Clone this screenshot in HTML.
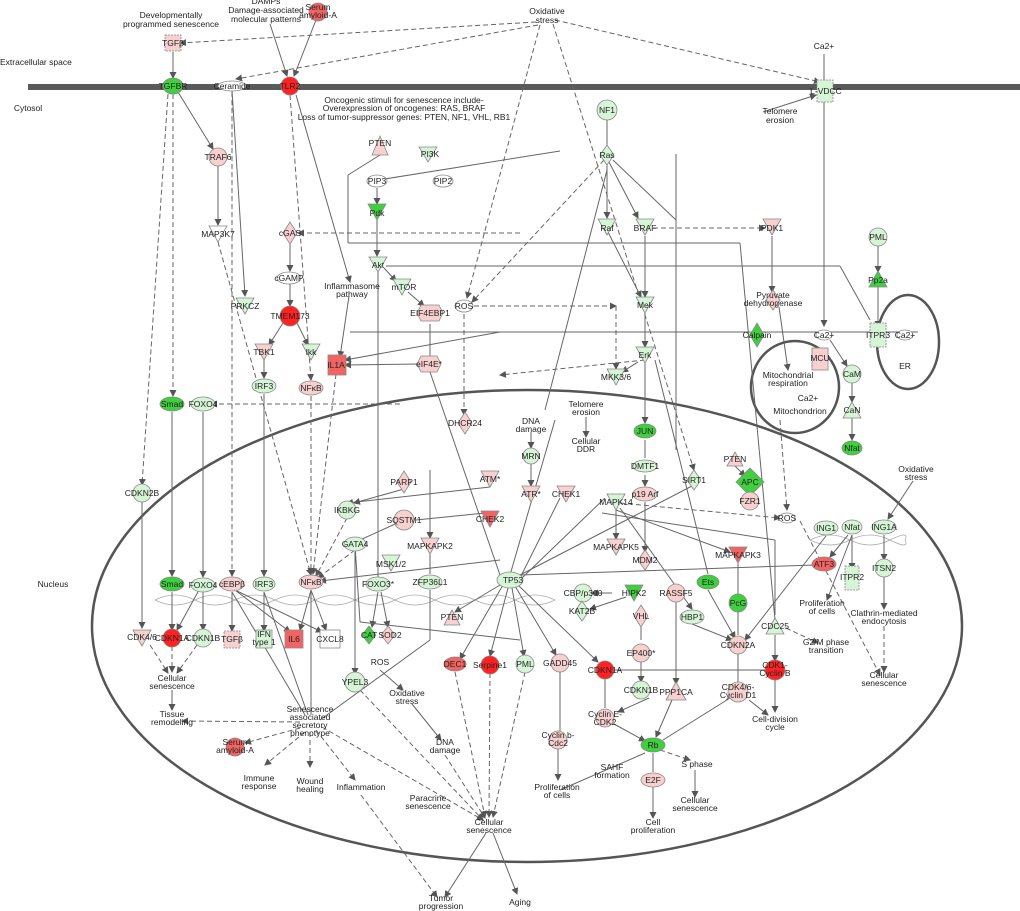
<!DOCTYPE html>
<html><head><meta charset="utf-8"><style>
html,body{margin:0;padding:0;background:#fff;}
svg{display:block;font-family:"Liberation Sans",sans-serif;}
text{font-size:8.5px;fill:#222;text-anchor:middle;}
.l{fill:none;stroke:#666;stroke-width:1;}
.d{fill:none;stroke:#666;stroke-width:1;stroke-dasharray:5,3;}
.n{stroke:#888;stroke-width:0.8;}
.g{fill:#d6f5d6}.G{fill:#3fcf3f}.r{fill:#f8d0d0}.R{fill:#f22}.m{fill:#f26464}.w{fill:#fff}
</style></head><body>
<svg width="1020" height="911" viewBox="0 0 1020 911" xmlns="http://www.w3.org/2000/svg">
<defs><marker id="a" markerWidth="7" markerHeight="7" refX="6" refY="3.5" orient="auto"><path d="M0,0L7,3.5L0,7z" fill="#555"/></marker></defs>
<rect x="28" y="84" width="992" height="6" fill="#5a5a5a"/>
<ellipse cx="527" cy="626" rx="435" ry="236" fill="none" stroke="#555" stroke-width="2.5"/>
<ellipse cx="795" cy="387" rx="44" ry="46" fill="none" stroke="#555" stroke-width="2.5"/>
<ellipse cx="908" cy="342" rx="31" ry="47" fill="none" stroke="#555" stroke-width="2.5"/>
<text x="0" y="65" style="text-anchor:start">Extracellular space</text>
<text x="28" y="111">Cytosol</text>
<text x="53" y="587">Nucleus</text>
<g stroke="#aaa" fill="none" stroke-width="0.8">
<path d="M155,600 Q175,590 195,600 T235,600 T275,600 T315,600 T355,600 T395,600 T435,600 T475,600 T515,600 T555,600"/>
<path d="M155,600 Q175,610 195,600 T235,600 T275,600 T315,600 T355,600 T395,600 T435,600 T475,600 T515,600 T555,600"/>
<path d="M810,540 Q830,530 850,540 T890,540 T905,540"/>
<path d="M810,540 Q830,550 850,540 T890,540 T905,540"/>
</g>
<g class="l" marker-end="url(#a)">
<line x1="173" y1="52" x2="173" y2="78"/>
<line x1="270" y1="24" x2="287" y2="76"/>
<line x1="316" y1="20" x2="294" y2="76"/>
<line x1="178" y1="92" x2="213" y2="149"/>
<line x1="218" y1="165" x2="218" y2="225"/>
<line x1="232" y1="90" x2="245" y2="296"/>
<line x1="290" y1="241" x2="290" y2="271"/>
<line x1="290" y1="284" x2="290" y2="306"/>
<line x1="283" y1="323" x2="269" y2="345"/>
<line x1="297" y1="323" x2="308" y2="345"/>
<line x1="264" y1="360" x2="264" y2="378"/>
<line x1="296" y1="95" x2="350" y2="282"/>
<line x1="349" y1="296" x2="340" y2="357"/>
<line x1="377" y1="188" x2="377" y2="204"/>
<line x1="377" y1="220" x2="377" y2="256"/>
<line x1="384" y1="268" x2="396" y2="281"/>
<line x1="408" y1="292" x2="424" y2="306"/>
<line x1="419" y1="364" x2="345" y2="365"/>
<line x1="500" y1="332" x2="345" y2="360"/>
<line x1="607" y1="165" x2="607" y2="218"/>
<line x1="609" y1="162" x2="638" y2="218"/>
<line x1="608" y1="232" x2="641" y2="297"/>
<line x1="645" y1="236" x2="645" y2="297"/>
<line x1="645" y1="313" x2="645" y2="347"/>
<line x1="645" y1="362" x2="645" y2="423"/>
<line x1="638" y1="362" x2="622" y2="372"/>
<line x1="772" y1="236" x2="772" y2="292"/>
<line x1="779" y1="307" x2="788" y2="370"/>
<line x1="824" y1="54" x2="824" y2="326"/>
<line x1="878" y1="245" x2="878" y2="272"/>
<line x1="878" y1="287" x2="878" y2="327"/>
<line x1="830" y1="340" x2="847" y2="366"/>
<line x1="852" y1="382" x2="852" y2="402"/>
<line x1="852" y1="418" x2="852" y2="440"/>
<line x1="763" y1="112" x2="816" y2="95"/>
<line x1="645" y1="475" x2="645" y2="486"/>
<line x1="586" y1="417" x2="586" y2="437"/>
<line x1="531" y1="432" x2="531" y2="448"/>
<line x1="531" y1="463" x2="531" y2="486"/>
<line x1="172" y1="412" x2="172" y2="576"/>
<line x1="203" y1="412" x2="203" y2="577"/>
<line x1="264" y1="394" x2="264" y2="576"/>
<line x1="142" y1="501" x2="142" y2="628"/>
<line x1="311" y1="590" x2="300" y2="630"/>
<line x1="311" y1="590" x2="326" y2="630"/>
<line x1="235" y1="590" x2="290" y2="632"/>
<line x1="235" y1="590" x2="322" y2="632"/>
<line x1="232" y1="592" x2="232" y2="631"/>
<line x1="264" y1="592" x2="264" y2="631"/>
<line x1="172" y1="592" x2="172" y2="630"/>
<line x1="203" y1="592" x2="203" y2="630"/>
<line x1="199" y1="590" x2="177" y2="630"/>
<line x1="172" y1="690" x2="172" y2="710"/>
<line x1="355" y1="552" x2="355" y2="674"/>
<line x1="378" y1="592" x2="372" y2="627"/>
<line x1="381" y1="592" x2="388" y2="627"/>
<line x1="380" y1="670" x2="403" y2="690"/>
<line x1="412" y1="704" x2="441" y2="740"/>
<line x1="490" y1="487" x2="347" y2="503"/>
<line x1="404" y1="489" x2="354" y2="503"/>
<line x1="430" y1="470" x2="430" y2="538"/>
<line x1="500" y1="560" x2="320" y2="581"/>
<line x1="616" y1="510" x2="616" y2="539"/>
<line x1="645" y1="502" x2="645" y2="552"/>
<line x1="616" y1="510" x2="730" y2="552"/>
<line x1="620" y1="508" x2="692" y2="609"/>
<line x1="503" y1="585" x2="460" y2="659"/>
<line x1="508" y1="588" x2="490" y2="656"/>
<line x1="512" y1="588" x2="524" y2="656"/>
<line x1="515" y1="586" x2="556" y2="655"/>
<line x1="518" y1="585" x2="598" y2="662"/>
<line x1="500" y1="585" x2="455" y2="612"/>
<line x1="612" y1="593" x2="592" y2="593"/>
<line x1="626" y1="597" x2="590" y2="609"/>
<line x1="641" y1="661" x2="641" y2="682"/>
<line x1="649" y1="698" x2="618" y2="712"/>
<line x1="614" y1="724" x2="645" y2="741"/>
<line x1="672" y1="700" x2="656" y2="737"/>
<line x1="676" y1="601" x2="676" y2="684"/>
<line x1="692" y1="624" x2="732" y2="640"/>
<line x1="708" y1="590" x2="735" y2="638"/>
<line x1="653" y1="787" x2="653" y2="818"/>
<line x1="695" y1="770" x2="695" y2="797"/>
<line x1="558" y1="748" x2="558" y2="780"/>
<line x1="775" y1="678" x2="775" y2="712"/>
<line x1="749" y1="700" x2="768" y2="715"/>
<line x1="775" y1="635" x2="775" y2="661"/>
<line x1="884" y1="535" x2="884" y2="560"/>
<line x1="884" y1="576" x2="884" y2="609"/>
<line x1="852" y1="535" x2="852" y2="569"/>
<line x1="848" y1="535" x2="830" y2="557"/>
<line x1="852" y1="535" x2="827" y2="600"/>
<line x1="826" y1="536" x2="745" y2="640"/>
<line x1="913" y1="481" x2="888" y2="519"/>
<line x1="486" y1="833" x2="445" y2="897"/>
<line x1="493" y1="833" x2="517" y2="894"/>
<line x1="735" y1="466" x2="745" y2="476"/>
</g>
<g class="d" marker-end="url(#a)">
<line x1="536" y1="22" x2="180" y2="43"/>
<line x1="538" y1="25" x2="236" y2="79"/>
<line x1="555" y1="20" x2="820" y2="82"/>
<line x1="540" y1="25" x2="467" y2="298"/>
<line x1="553" y1="24" x2="694" y2="470"/>
<line x1="173" y1="94" x2="173" y2="396"/>
<line x1="168" y1="94" x2="142" y2="485"/>
<line x1="290" y1="95" x2="311" y2="380"/>
<line x1="218" y1="242" x2="311" y2="575"/>
<line x1="232" y1="92" x2="232" y2="576"/>
<line x1="311" y1="396" x2="311" y2="574"/>
<line x1="336" y1="374" x2="313" y2="574"/>
<line x1="604" y1="160" x2="472" y2="302"/>
<line x1="653" y1="228" x2="765" y2="228"/>
<line x1="520" y1="233" x2="298" y2="233"/>
<line x1="464" y1="314" x2="464" y2="415"/>
<line x1="474" y1="306" x2="616" y2="306"/>
<line x1="616" y1="306" x2="616" y2="369"/>
<line x1="645" y1="360" x2="500" y2="375"/>
<line x1="400" y1="404" x2="211" y2="404"/>
<line x1="620" y1="503" x2="780" y2="518"/>
<line x1="780" y1="420" x2="787" y2="510"/>
<line x1="347" y1="518" x2="316" y2="576"/>
<line x1="355" y1="550" x2="318" y2="578"/>
<line x1="150" y1="645" x2="168" y2="673"/>
<line x1="172" y1="646" x2="172" y2="672"/>
<line x1="197" y1="645" x2="177" y2="673"/>
<line x1="300" y1="722" x2="182" y2="721"/>
<line x1="300" y1="728" x2="245" y2="743"/>
<line x1="305" y1="732" x2="265" y2="765"/>
<line x1="310" y1="732" x2="310" y2="767"/>
<line x1="316" y1="730" x2="355" y2="780"/>
<line x1="322" y1="727" x2="483" y2="820"/>
<line x1="361" y1="795" x2="437" y2="897"/>
<line x1="455" y1="672" x2="485" y2="817"/>
<line x1="490" y1="673" x2="489" y2="817"/>
<line x1="525" y1="672" x2="493" y2="817"/>
<line x1="445" y1="755" x2="485" y2="818"/>
<line x1="360" y1="690" x2="483" y2="820"/>
<line x1="660" y1="750" x2="690" y2="760"/>
<line x1="786" y1="628" x2="818" y2="643"/>
<line x1="800" y1="521" x2="880" y2="675"/>
<line x1="884" y1="626" x2="884" y2="672"/>
</g>
<g class="l">
<line x1="607" y1="118" x2="607" y2="145"/>
<line x1="560" y1="151" x2="372" y2="181"/>
<line x1="380" y1="155" x2="348" y2="175"/>
<line x1="348" y1="175" x2="348" y2="243"/>
<line x1="348" y1="243" x2="740" y2="243"/>
<line x1="740" y1="243" x2="775" y2="620"/>
<line x1="386" y1="266" x2="840" y2="266"/>
<line x1="840" y1="266" x2="870" y2="320"/>
<line x1="430" y1="372" x2="430" y2="324"/>
<line x1="676" y1="154" x2="676" y2="450"/>
<line x1="613" y1="160" x2="676" y2="220"/>
<line x1="607" y1="170" x2="545" y2="410"/>
<line x1="350" y1="332" x2="918" y2="332"/>
<line x1="378" y1="272" x2="378" y2="578"/>
<line x1="430" y1="372" x2="500" y2="575"/>
<line x1="555" y1="420" x2="510" y2="575"/>
<line x1="645" y1="440" x2="645" y2="458"/>
<line x1="655" y1="360" x2="708" y2="574"/>
<line x1="520" y1="575" x2="694" y2="485"/>
<line x1="602" y1="513" x2="775" y2="540"/>
<line x1="775" y1="540" x2="775" y2="615"/>
<line x1="612" y1="670" x2="765" y2="670"/>
<line x1="605" y1="678" x2="605" y2="708"/>
<line x1="738" y1="653" x2="738" y2="684"/>
<line x1="738" y1="563" x2="738" y2="597"/>
<line x1="738" y1="612" x2="738" y2="635"/>
<line x1="560" y1="672" x2="560" y2="732"/>
<line x1="641" y1="624" x2="641" y2="640"/>
<line x1="645" y1="753" x2="560" y2="790"/>
<line x1="653" y1="753" x2="653" y2="772"/>
<line x1="730" y1="698" x2="663" y2="740"/>
<line x1="430" y1="554" x2="430" y2="574"/>
<line x1="430" y1="590" x2="430" y2="640"/>
<line x1="430" y1="640" x2="320" y2="720"/>
<line x1="355" y1="545" x2="360" y2="622"/>
<line x1="360" y1="622" x2="520" y2="640"/>
<line x1="520" y1="575" x2="815" y2="565"/>
<line x1="495" y1="512" x2="416" y2="520"/>
<line x1="404" y1="520" x2="360" y2="540"/>
<line x1="232" y1="592" x2="305" y2="715"/>
<line x1="264" y1="592" x2="308" y2="715"/>
<line x1="311" y1="592" x2="311" y2="715"/>
<line x1="605" y1="498" x2="522" y2="578"/>
<line x1="560" y1="498" x2="520" y2="578"/>
</g>
<g class="n">
<rect x="165" y="35" width="16" height="16" class="r" stroke-dasharray="2,1"/>
<ellipse cx="173" cy="86" rx="10" ry="8" class="G"/>
<ellipse cx="232" cy="86" rx="14" ry="5" class="w"/>
<ellipse cx="290" cy="86" rx="9" ry="9" class="R"/>
<circle cx="318" cy="12" r="9" class="m"/>
<rect x="817" y="80" width="16" height="22" class="g" stroke-dasharray="2,1"/>
<circle cx="218" cy="157" r="9" class="r"/>
<polygon points="372,155 380,136 388,155" class="r"/>
<polygon points="419,147 437,147 428,162" class="g"/>
<ellipse cx="377" cy="181" rx="10" ry="6" class="w"/>
<ellipse cx="443" cy="181" rx="10" ry="6" class="w"/>
<polygon points="368,204 386,204 377,220" class="G"/>
<circle cx="607" cy="110" r="10" class="g"/>
<polygon points="607,145 614,155 607,165 600,155" class="g"/>
<polygon points="209,226 227,226 218,242" class="w"/>
<polygon points="290,222 297,233 290,244 283,233" class="r"/>
<polygon points="369,257 387,257 378,272" class="g"/>
<polygon points="393,279 411,279 402,295" class="g"/>
<ellipse cx="289" cy="278" rx="12" ry="6" class="w"/>
<polygon points="236,298 254,298 245,314" class="g"/>
<circle cx="290" cy="316" r="10" class="R"/>
<polygon points="421,305 439,305 443,313 439,321 421,321 417,313" class="r"/>
<ellipse cx="464" cy="306" rx="9" ry="6" class="w"/>
<polygon points="598,219 616,219 607,235" class="g"/>
<polygon points="636,219 654,219 645,235" class="g"/>
<polygon points="763,219 781,219 772,235" class="r"/>
<circle cx="878" cy="237" r="9" class="g"/>
<polygon points="869,287 878,271 887,287" class="G"/>
<polygon points="636,297 654,297 645,313" class="g"/>
<polygon points="773,290 780,300 773,310 766,300" class="r"/>
<polygon points="757,323 764,335 757,347 750,335" class="G"/>
<ellipse cx="824" cy="335" rx="8" ry="5" class="w"/>
<rect x="870" y="323" width="16" height="24" class="g" stroke-dasharray="2,1"/>
<ellipse cx="905" cy="335" rx="8" ry="5" class="w"/>
<polygon points="255,344 273,344 264,360" class="r"/>
<polygon points="302,344 320,344 311,360" class="g"/>
<rect x="328" y="355" width="18" height="20" class="m"/>
<polygon points="421,356 437,356 441,364 437,372 421,372 417,364" class="r"/>
<polygon points="636,347 654,347 645,363" class="g"/>
<polygon points="607,369 625,369 616,385" class="g"/>
<rect x="812" y="348" width="16" height="22" class="r"/>
<circle cx="852" cy="374" r="9" class="g"/>
<polygon points="843,418 852,402 861,418" class="g"/>
<ellipse cx="852" cy="448" rx="10" ry="7" class="G"/>
<ellipse cx="264" cy="386" rx="12" ry="7" class="g"/>
<ellipse cx="311" cy="388" rx="12" ry="7" class="r"/>
<ellipse cx="172" cy="404" rx="12" ry="7" class="G"/>
<ellipse cx="203" cy="404" rx="12" ry="7" class="g"/>
<polygon points="465,412 472,423 465,434 458,423" class="r"/>
<circle cx="531" cy="456" r="8" class="g"/>
<ellipse cx="645" cy="431" rx="11" ry="7" class="G"/>
<circle cx="142" cy="493" r="9" class="g"/>
<polygon points="404,471 411,482 404,493 397,482" class="r"/>
<polygon points="481,471 499,471 490,487" class="r"/>
<polygon points="522,486 540,486 531,502" class="r"/>
<polygon points="557,486 575,486 566,502" class="r"/>
<polygon points="607,494 625,494 616,510" class="g"/>
<ellipse cx="645" cy="466" rx="12" ry="6" class="g"/>
<ellipse cx="645" cy="494" rx="12" ry="7" class="r"/>
<polygon points="694,470 701,480 694,490 687,480" class="g"/>
<polygon points="727,466 735,452 743,466" class="r"/>
<polygon points="750,468 764,482 750,496 736,482" class="G"/>
<circle cx="750" cy="501" r="9" class="r"/>
<ellipse cx="787" cy="518" rx="8" ry="5" class="w"/>
<circle cx="347" cy="510" r="9" class="g"/>
<circle cx="404" cy="520" r="10" class="r"/>
<polygon points="481,511 499,511 490,527" class="m"/>
<ellipse cx="355" cy="544" rx="11" ry="7" class="g"/>
<polygon points="421,538 439,538 430,554" class="r"/>
<polygon points="382,555 400,555 391,571" class="g"/>
<ellipse cx="430" cy="582" rx="12" ry="7" class="g"/>
<ellipse cx="378" cy="584" rx="12" ry="7" class="g"/>
<ellipse cx="826" cy="528" rx="12" ry="7" class="g"/>
<ellipse cx="852" cy="527" rx="10" ry="7" class="g"/>
<ellipse cx="884" cy="527" rx="12" ry="7" class="g"/>
<polygon points="607,539 625,539 616,555" class="r"/>
<polygon points="645,550 652,560 645,570 638,560" class="r"/>
<polygon points="729,547 747,547 738,563" class="m"/>
<ellipse cx="824" cy="564" rx="12" ry="7" class="m"/>
<rect x="845" y="566" width="14" height="24" class="g" stroke-dasharray="2,1"/>
<circle cx="884" cy="568" r="9" class="g"/>
<ellipse cx="172" cy="584" rx="12" ry="7" class="G"/>
<ellipse cx="203" cy="585" rx="12" ry="7" class="g"/>
<ellipse cx="232" cy="584" rx="12" ry="7" class="r"/>
<ellipse cx="264" cy="584" rx="11" ry="7" class="g"/>
<ellipse cx="311" cy="582" rx="12" ry="7" class="r"/>
<ellipse cx="510" cy="580" rx="13" ry="8" class="g"/>
<circle cx="583" cy="593" r="9" class="g"/>
<polygon points="625,585 643,585 634,601" class="G"/>
<circle cx="676" cy="593" r="9" class="r"/>
<ellipse cx="708" cy="582" rx="11" ry="7" class="G"/>
<polygon points="444,625 452,610 460,625" class="r"/>
<polygon points="582,601 589,611 582,621 575,611" class="g"/>
<polygon points="641,605 648,616 641,627 634,616" class="r"/>
<ellipse cx="692" cy="617" rx="12" ry="7" class="g"/>
<circle cx="738" cy="603" r="9" class="G"/>
<polygon points="766,634 775,618 784,634" class="g"/>
<polygon points="133,630 151,630 142,646" class="r"/>
<circle cx="172" cy="638" r="9" class="R"/>
<circle cx="203" cy="638" r="9" class="g"/>
<rect x="224" y="631" width="16" height="17" class="r" stroke-dasharray="2,1"/>
<rect x="256" y="630" width="16" height="18" class="g"/>
<rect x="285" y="630" width="18" height="18" class="m"/>
<rect x="320" y="630" width="20" height="18" class="w"/>
<polygon points="369,626 376,635 369,644 362,635" class="G"/>
<polygon points="388,626 395,635 388,644 381,635" class="r"/>
<circle cx="738" cy="645" r="9" class="r"/>
<circle cx="641" cy="653" r="9" class="r"/>
<ellipse cx="455" cy="664" rx="11" ry="7" class="m"/>
<circle cx="490" cy="665" r="9" class="R"/>
<circle cx="525" cy="664" r="9" class="g"/>
<circle cx="560" cy="663" r="9" class="r"/>
<circle cx="605" cy="670" r="9" class="R"/>
<circle cx="775" cy="670" r="10" class="R"/>
<circle cx="355" cy="682" r="10" class="g"/>
<circle cx="641" cy="690" r="9" class="g"/>
<polygon points="666,700 676,682 686,700" class="r"/>
<circle cx="738" cy="692" r="10" class="r"/>
<circle cx="605" cy="718" r="9" class="r"/>
<circle cx="558" cy="740" r="9" class="r"/>
<circle cx="235" cy="747" r="9" class="m"/>
<ellipse cx="653" cy="745" rx="12" ry="7" class="G"/>
<ellipse cx="653" cy="780" rx="12" ry="7" class="r"/>
</g>
<g>
<text x="171" y="18">Developmentally</text><text x="171" y="27">programmed senescence</text>
<text x="266" y="4">DAMPs</text><text x="266" y="13">Damage-associated</text><text x="266" y="22">molecular patterns</text>
<text x="318" y="10">Serum</text><text x="318" y="18">amyloid-A</text>
<text x="547" y="14">Oxidative</text><text x="547" y="23">stress</text>
<text x="173" y="46">TGFβ</text><text x="173" y="89">TGFBR</text><text x="232" y="89">Ceramide</text><text x="290" y="89">TLR2</text>
<text x="824" y="49">Ca2+</text><text x="826" y="94">L-VDCC</text><text x="780" y="114">Telomere</text><text x="780" y="123">erosion</text>
<text x="404" y="103">Oncogenic stimuli for senescence include-</text>
<text x="404" y="111">Overexpression of oncogenes: RAS, BRAF</text>
<text x="404" y="120">Loss of tumor-suppressor genes: PTEN, NF1, VHL, RB1</text>
<text x="607" y="113">NF1</text><text x="218" y="160">TRAF6</text><text x="380" y="146">PTEN</text><text x="430" y="157">PI3K</text>
<text x="377" y="184">PIP3</text><text x="443" y="184">PIP2</text><text x="377" y="216">Pdk</text><text x="607" y="158">Ras</text>
<text x="218" y="237">MAP3K7</text><text x="290" y="236">cGAS</text><text x="378" y="268">Akt</text><text x="404" y="290">mTOR</text>
<text x="289" y="281">cGAMP</text><text x="352" y="289">Inflammasome</text><text x="352" y="297">pathway</text>
<text x="245" y="309">PRKCZ</text><text x="290" y="319">TMEM173</text><text x="430" y="316">EIF4EBP1</text><text x="464" y="309">ROS</text>
<text x="607" y="231">Raf</text><text x="645" y="231">BRAF</text><text x="772" y="231">PDK1</text><text x="878" y="240">PML</text><text x="878" y="283">Pp2a</text>
<text x="645" y="308">Mek</text><text x="773" y="298">Pyruvate</text><text x="773" y="306">dehydrogenase</text>
<text x="757" y="338">Calpain</text><text x="824" y="338">Ca2+</text><text x="878" y="338">ITPR3</text><text x="905" y="338">Ca2+</text><text x="905" y="369">ER</text>
<text x="264" y="355">TBK1</text><text x="311" y="355">Ikk</text><text x="336" y="368">IL1A</text><text x="429" y="367">eIF4E*</text>
<text x="645" y="358">Erk</text><text x="616" y="380">MKK3/6</text><text x="820" y="361">MCU</text><text x="852" y="377">CaM</text>
<text x="788" y="378">Mitochondrial</text><text x="788" y="386">respiration</text><text x="808" y="401">Ca2+</text><text x="800" y="414">Mitochondrion</text>
<text x="264" y="389">IRF3</text><text x="311" y="391">NFκB</text><text x="172" y="407">Smad</text><text x="203" y="407">FOXO4</text>
<text x="465" y="426">DHCR24</text><text x="586" y="407">Telomere</text><text x="586" y="415">erosion</text>
<text x="531" y="424">DNA</text><text x="531" y="432">damage</text><text x="586" y="444">Cellular</text><text x="586" y="452">DDR</text>
<text x="531" y="459">MRN</text><text x="645" y="434">JUN</text><text x="852" y="413">CaN</text><text x="852" y="451">Nfat</text>
<text x="142" y="496">CDKN2B</text><text x="404" y="485">PARP1</text><text x="490" y="482">ATM*</text><text x="531" y="497">ATR*</text>
<text x="566" y="497">CHEK1</text><text x="616" y="505">MAPK14</text><text x="645" y="469">DMTF1</text><text x="645" y="497">p19 Arf</text>
<text x="694" y="483">SIRT1</text><text x="735" y="462">PTEN</text><text x="750" y="485">APC</text><text x="750" y="504">FZR1</text><text x="787" y="521">ROS</text>
<text x="916" y="472">Oxidative</text><text x="916" y="480">stress</text>
<text x="347" y="513">IKBKG</text><text x="404" y="523">SQSTM1</text><text x="490" y="522">CHEK2</text><text x="355" y="547">GATA4</text>
<text x="430" y="549">MAPKAPK2</text><text x="391" y="567">MSK1/2</text><text x="430" y="585">ZFP36L1</text><text x="378" y="587">FOXO3*</text>
<text x="826" y="531">ING1</text><text x="852" y="530">Nfat</text><text x="884" y="530">ING1A</text>
<text x="616" y="550">MAPKAPK5</text><text x="645" y="563">MDM2</text><text x="738" y="558">MAPKAPK3</text><text x="824" y="567">ATF3</text>
<text x="852" y="580">ITPR2</text><text x="884" y="571">ITSN2</text>
<text x="172" y="587">Smad</text><text x="203" y="588">FOXO4</text><text x="232" y="587">cEBPβ</text><text x="264" y="587">IRF3</text><text x="311" y="585">NFκB</text>
<text x="513" y="583">TP53</text><text x="583" y="596">CBP/p300</text><text x="634" y="596">HIPK2</text><text x="676" y="596">RASSF5</text><text x="708" y="585">Ets</text>
<text x="452" y="620">PTEN</text><text x="582" y="614">KAT2B</text><text x="641" y="619">VHL</text><text x="692" y="620">HBP1</text><text x="738" y="606">PcG</text><text x="775" y="629">CDC25</text>
<text x="822" y="606">Proliferation</text><text x="822" y="614">of cells</text><text x="884" y="616">Clathrin-mediated</text><text x="884" y="624">endocytosis</text>
<text x="142" y="640">CDK4/6</text><text x="172" y="641">CDKN1A</text><text x="203" y="641">CDKN1B</text><text x="232" y="642">TGFβ</text>
<text x="264" y="637">IFN</text><text x="264" y="645">type 1</text><text x="294" y="642">IL6</text><text x="330" y="642">CXCL8</text>
<text x="369" y="638">CAT</text><text x="390" y="638">SOD2</text><text x="738" y="648">CDKN2A</text><text x="826" y="645">G2/M phase</text><text x="826" y="653">transition</text>
<text x="380" y="665">ROS</text><text x="641" y="656">EP400*</text><text x="455" y="667">DEC1</text><text x="490" y="668">Serpine1</text><text x="525" y="667">PML</text>
<text x="560" y="666">GADD45</text><text x="605" y="673">CDKN1A</text><text x="775" y="668">CDK1-</text><text x="775" y="676">Cyclin B</text>
<text x="884" y="678">Cellular</text><text x="884" y="686">senescence</text>
<text x="172" y="681">Cellular</text><text x="172" y="689">senescence</text><text x="355" y="685">YPEL3</text><text x="641" y="693">CDKN1B</text><text x="676" y="695">PPP1CA</text>
<text x="738" y="690">CDK4/6-</text><text x="738" y="698">Cyclin D1</text><text x="407" y="696">Oxidative</text><text x="407" y="704">stress</text>
<text x="172" y="717">Tissue</text><text x="172" y="725">remodeling</text>
<text x="310" y="712">Senescence</text><text x="310" y="720">associated</text><text x="310" y="728">secretory</text><text x="310" y="736">phenotype</text>
<text x="605" y="717">Cyclin E-</text><text x="605" y="725">CDK2</text><text x="775" y="722">Cell-division</text><text x="775" y="730">cycle</text>
<text x="445" y="745">DNA</text><text x="445" y="753">damage</text><text x="235" y="745">Serum</text><text x="235" y="753">amyloid-A</text>
<text x="558" y="738">Cyclin b-</text><text x="558" y="746">Cdc2</text><text x="653" y="748">Rb</text><text x="612" y="770">SAHF</text><text x="612" y="778">formation</text><text x="697" y="767">S phase</text>
<text x="259" y="781">Immune</text><text x="259" y="789">response</text><text x="310" y="784">Wound</text><text x="310" y="792">healing</text><text x="361" y="790">Inflammation</text>
<text x="428" y="801">Paracrine</text><text x="428" y="809">senescence</text><text x="557" y="790">Proliferation</text><text x="557" y="798">of cells</text>
<text x="653" y="783">E2F</text><text x="695" y="803">Cellular</text><text x="695" y="811">senescence</text>
<text x="489" y="825">Cellular</text><text x="489" y="833">senescence</text><text x="653" y="825">Cell</text><text x="653" y="833">proliferation</text>
<text x="441" y="901">Tumor</text><text x="441" y="909">progression</text><text x="520" y="905">Aging</text>
</g>
</svg>
</body></html>
